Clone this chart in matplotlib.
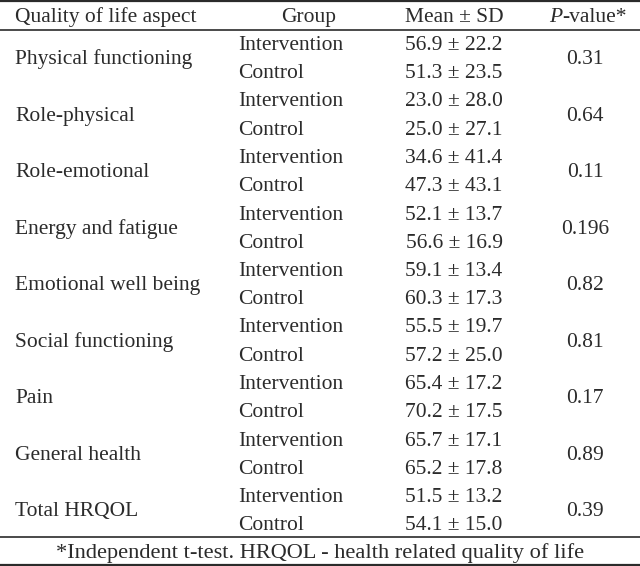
import matplotlib.pyplot as plt

plt.rcParams['font.family'] = ['Liberation Serif', 'DejaVu Serif']

# table content
aspects = ["Physical functioning", "Role-physical", "Role-emotional",
           "Energy and fatigue", "Emotional well being", "Social functioning",
           "Pain", "General health", "Total HRQOL"]
groups = ["Intervention", "Control"]
mean_int = ["56.9", "23.0", "34.6", "52.1", "59.1", "55.5", "65.4", "65.7", "51.5"]
sd_int = ["22.2", "28.0", "41.4", "13.7", "13.4", "19.7", "17.2", "17.1", "13.2"]
mean_ctl = ["51.3", "25.0", "47.3", "56.6", "60.3", "57.2", "70.2", "65.2", "54.1"]
sd_ctl = ["23.5", "27.1", "43.1", "16.9", "17.3", "25.0", "17.5", "17.8", "15.0"]
p_values = ["0.31", "0.64", "0.11", "0.196", "0.82", "0.81", "0.17", "0.89", "0.39"]
headers = ["Quality of life aspect", "Group", "Mean ± SD"]
footnote = "*Independent t-test. HRQOL - health related quality of life"

W, H = 640, 566
fig = plt.figure(figsize=(W / 100, H / 100), dpi=100)
ax = fig.add_axes([0, 0, 1, 1])
ax.set_xlim(0, W)
ax.set_ylim(H, 0)
ax.axis("off")

col = "#2b2b2b"
fs = 15.5
kw = dict(fontsize=fs, color=col, va="baseline")

# horizontal rules
for y, lw in [(1, 1.6), (30, 1.2), (537, 1.2), (564.5, 1.6)]:
    ax.axhline(y, color=col, lw=lw)

# header (baseline positions)
hy = 22
ax.text(15, hy, headers[0], ha="left", **kw)
ax.text(309, hy, headers[1], ha="center", **kw)
ax.text(454, hy, headers[2], ha="center", **kw)
ax.text(562, hy, "P", ha="right", style="italic", **kw)
ax.text(562, hy, "-value*", ha="left", **kw)

top = 50
step = 56.5
half = 28.2
for i, a in enumerate(aspects):
    y1 = top + i * step
    y2 = y1 + half
    ym = (y1 + y2) / 2
    ax.text(15, ym, a, ha="left", **kw)
    ax.text(238, y1, groups[0], ha="left", **kw)
    ax.text(238, y2, groups[1], ha="left", **kw)
    ax.text(454, y1, f"{mean_int[i]} ± {sd_int[i]}", ha="center", **kw)
    ax.text(454, y2, f"{mean_ctl[i]} ± {sd_ctl[i]}", ha="center", **kw)
    ax.text(585, ym, p_values[i], ha="center", **kw)

ax.text(320, 558, footnote, fontsize=fs + 0.6, color=col, va="baseline", ha="center")

fig.savefig("out.png", dpi=100)
